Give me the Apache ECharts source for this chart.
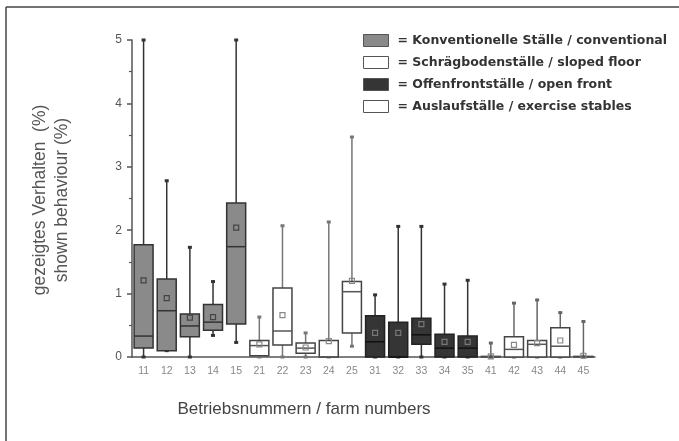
<!DOCTYPE html>
<html>
<head>
<meta charset="utf-8">
<script src="https://cdn.jsdelivr.net/npm/echarts@6/dist/echarts.min.js"></script>
<style>
html,body{margin:0;padding:0;background:#fff;}
#chart{width:679px;height:441px;}
</style>
</head>
<body>
<div id="chart"></div>
<script>
// ---- data ----
const farms = ['11','12','13','14','15','21','22','23','24','25','31','32','33','34','35','41','42','43','44','45'];
const groupOf = [0,0,0,0,0,1,1,1,1,1,2,2,2,2,2,3,3,3,3,3];
const groupNames = ['Konventionelle Ställe / conventional','Schrägbodenställe / sloped floor','Offenfrontställe / open front','Auslaufställe / exercise stables'];
const whiskerLow  = [0,   0.10,0,   0.34,0.23, 0,   0,   0,   0,   0.17, 0,   0,   0,   0,   0,   0,   0,   0,   0,   0];
const quart1      = [0.14,0.10,0.32,0.42,0.52, 0.02,0.19,0.06,0,   0.38, 0,   0,   0.20,0,   0,   0,   0,   0,   0,   0];
const medianVals  = [0.33,0.73,0.49,0.55,1.74, 0.18,0.41,0.14,0,   1.03, 0.24,0,   0.35,0.14,0.14, 0,   0.12,0.20,0.17,0];
const quart3      = [1.77,1.23,0.68,0.83,2.43, 0.26,1.09,0.22,0.26,1.19, 0.65,0.55,0.61,0.36,0.33, 0.01,0.32,0.26,0.46,0.01];
const whiskerHigh = [5.0, 2.78,1.73,1.19,5.0,  0.63,2.07,0.38,2.13,3.47, 0.98,2.06,2.06,1.15,1.21, 0.22,0.85,0.90,0.70,0.56];
const meanVals    = [1.21,0.93,0.62,0.63,2.04, 0.20,0.66,0.15,0.25,1.20, 0.38,0.38,0.52,0.24,0.24, 0.01,0.19,0.22,0.26,0.02];
const yTicks = [0,1,2,3,4,5];

// ---- styles ----
const styles = [
  {fill:'#8a8a8a', border:'#333', median:'#333', whisker:'#333', mean:'#444'},
  {fill:'#ffffff', border:'#444', median:'#555', whisker:'#777', mean:'#888'},
  {fill:'#353535', border:'#222', median:'#111', whisker:'#333', mean:'#777'},
  {fill:'#ffffff', border:'#444', median:'#555', whisker:'#666', mean:'#888'}
];

function renderItem(params, api){
  const xi = api.value(0);
  const lo = api.coord([xi, api.value(1)]);
  const q1 = api.coord([xi, api.value(2)]);
  const md = api.coord([xi, api.value(3)]);
  const q3 = api.coord([xi, api.value(4)]);
  const hi = api.coord([xi, api.value(5)]);
  const mn = api.coord([xi, api.value(6)]);
  const w = api.size([1,0])[0]*0.82;
  const cx = lo[0];
  const st = styles[params.seriesIndex];
  return {type:'group', children:[
    {type:'line', shape:{x1:cx,y1:hi[1],x2:cx,y2:lo[1]}, style:{stroke:st.whisker,lineWidth:1.5}},
    {type:'rect', shape:{x:cx-2,y:hi[1]-1.5,width:4,height:3}, style:{fill:st.whisker}},
    {type:'rect', shape:{x:cx-2,y:lo[1]-1.5,width:4,height:3}, style:{fill:st.whisker}},
    {type:'rect', shape:{x:cx-w/2,y:q3[1],width:w,height:Math.max(q1[1]-q3[1],0.5)}, style:{fill:st.fill,stroke:st.border,lineWidth:1.5}},
    {type:'line', shape:{x1:cx-w/2,y1:md[1],x2:cx+w/2,y2:md[1]}, style:{stroke:st.median,lineWidth:1.5}},
    {type:'rect', shape:{x:cx-2.5,y:mn[1]-2.5,width:5,height:5}, style:{fill:'none',stroke:st.mean,lineWidth:1.2}}
  ]};
}

const series = groupNames.map((name, g) => ({
  name: name,
  type: 'custom',
  renderItem: renderItem,
  itemStyle: {color: styles[g].fill, borderColor: styles[g].border, borderWidth: 1},
  encode: {x: 0, y: [1,2,3,4,5,6]},
  data: farms.map((f,i) => groupOf[i]===g ? [i, whiskerLow[i], quart1[i], medianVals[i], quart3[i], whiskerHigh[i], meanVals[i]] : null).filter(d => d),
  silent: true,
  animation: false
}));

const chart = echarts.init(document.getElementById('chart'), null, {renderer:'canvas'});
chart.setOption({
  backgroundColor: '#fff',
  animation: false,
  grid: {left:132, right:84, top:40, bottom:84},
  legend: {
    orient:'vertical', left:358, top:29, itemWidth:25, itemHeight:12, itemGap:9,
    selectedMode:false,
    formatter: n => '= ' + n,
    textStyle: {fontFamily:'DejaVu Sans', fontSize:12.5, fontWeight:'bold', color:'#333', padding:[0,0,0,4]},
    data: groupNames.map((n,g) => ({name:n, icon:'rect', itemStyle:{color:styles[g].fill, borderColor:'#555', borderWidth:1}}))
  },
  xAxis: {
    type:'category', data: farms, boundaryGap:true,
    axisLine:{lineStyle:{color:'#555', width:1.5}},
    axisTick:{alignWithLabel:true, length:5, lineStyle:{color:'#555', width:1.5}},
    axisLabel:{fontFamily:'Liberation Sans', fontSize:10.5, color:'#888', margin:9}
  },
  yAxis: {
    type:'value', min:yTicks[0], max:yTicks[yTicks.length-1], interval:1,
    axisLine:{show:true, lineStyle:{color:'#555', width:1.5}},
    axisTick:{show:true, length:5, lineStyle:{color:'#555', width:1.5}},
    minorTick:{show:true, splitNumber:2, length:3, lineStyle:{color:'#555', width:1.2}},
    splitLine:{show:false},
    axisLabel:{fontFamily:'Liberation Sans', fontSize:12, color:'#555', margin:10}
  },
  graphic: [
    {type:'line', shape:{x1:6,y1:7,x2:679,y2:7}, style:{stroke:'#444', lineWidth:1.5}, silent:true},
    {type:'line', shape:{x1:6,y1:7,x2:6,y2:441}, style:{stroke:'#444', lineWidth:1.5}, silent:true},
    {type:'text', x:51, y:200, rotation:Math.PI/2, silent:true,
     style:{text:'gezeigtes Verhalten  (%)\nshown behaviour (%)', fontFamily:'Liberation Sans', fontSize:17.5, lineHeight:22, fill:'#555', align:'center', verticalAlign:'middle'}},
    {type:'text', x:304, y:409, silent:true,
     style:{text:'Betriebsnummern / farm numbers', fontFamily:'Liberation Sans', fontSize:17, fill:'#444', align:'center', verticalAlign:'middle'}}
  ],
  series: series
});
</script>
</body>
</html>
